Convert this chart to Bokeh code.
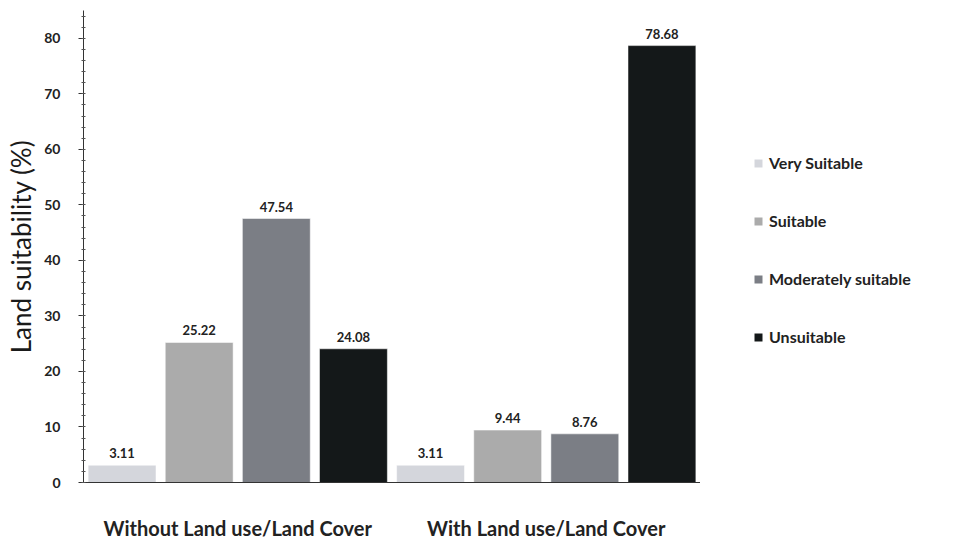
from bokeh.plotting import figure
from bokeh.layouts import row
from bokeh.models import ColumnDataSource, FactorRange, Legend, LegendItem, LabelSet
from bokeh.transform import dodge
from bokeh.core.properties import value
from bokeh.embed import file_html
from bokeh.resources import INLINE

# Land suitability classes under two scenarios
scenarios = ["Without Land use/Land Cover", "With Land use/Land Cover"]
classes = ["Very Suitable", "Suitable", "Moderately suitable", "Unsuitable"]
without_lulc = [3.11, 25.22, 47.54, 24.08]
with_lulc = [3.11, 9.44, 8.76, 78.68]
class_colors = ["#d4d6dc", "#ababab", "#7b7e85", "#141819"]

FONT = "Lato"
BAR_PITCH = 0.25
BAR_WIDTH = 0.22

p = figure(
    width=700, height=544,
    x_range=FactorRange(*scenarios, range_padding=0.0),
    y_range=(0, 85),
    output_backend="svg", toolbar_location=None,
    min_border_left=83, min_border_right=0, min_border_top=10, min_border_bottom=62,
)
p.outline_line_color = None
p.xgrid.grid_line_color = None
p.ygrid.grid_line_color = None
p.background_fill_color = "white"
p.border_fill_color = "white"

for i, color in enumerate(class_colors):
    vals = [without_lulc[i], with_lulc[i]]
    src = ColumnDataSource(dict(
        scenario=scenarios,
        top=vals,
        label=["%.2f" % v for v in vals],
    ))
    offset = (i - 1.5) * BAR_PITCH
    p.vbar(x=dodge("scenario", offset, range=p.x_range), top="top",
           width=BAR_WIDTH, source=src,
           fill_color=color, line_color="white", line_width=0.5)
    p.add_layout(LabelSet(
        x=dodge("scenario", offset, range=p.x_range), y="top", text="label",
        source=src, text_align="center", text_baseline="bottom", y_offset=7,
        text_font=value(FONT), text_font_style="bold", text_font_size="13px",
        text_color="#222222"))

# y axis
p.yaxis.axis_label = "Land suitability (%)"
p.yaxis.axis_label_text_font = FONT
p.yaxis.axis_label_text_font_style = "normal"
p.yaxis.axis_label_text_font_size = "26px"
p.yaxis.axis_label_text_color = "#1a1a1a"
p.yaxis.axis_label_standoff = 4
p.yaxis.ticker.desired_num_ticks = 9
p.yaxis.ticker.num_minor_ticks = 5
p.yaxis.major_label_text_font = FONT
p.yaxis.major_label_text_font_style = "bold"
p.yaxis.major_label_text_font_size = "14px"
p.yaxis.major_label_text_color = "#222222"
p.yaxis.major_label_standoff = 18
p.yaxis.major_tick_in = 0
p.yaxis.major_tick_out = 5
p.yaxis.minor_tick_in = 2
p.yaxis.minor_tick_out = 2
p.yaxis.axis_line_color = "#333333"
p.yaxis.major_tick_line_color = "#333333"
p.yaxis.minor_tick_line_color = "#555555"

# x axis: scenario names
p.xaxis.major_tick_line_color = None
p.xaxis.minor_tick_line_color = None
p.xaxis.major_label_text_font = FONT
p.xaxis.major_label_text_font_style = "bold"
p.xaxis.major_label_text_font_size = "20px"
p.xaxis.major_label_text_color = "#222222"
p.xaxis.major_label_standoff = 27
p.xaxis.axis_line_color = "#333333"

# Legend panel beside the chart
lg = figure(
    width=259, height=544, x_range=(0, 1), y_range=(0, 1),
    output_backend="svg", toolbar_location=None,
    min_border_left=0, min_border_right=0, min_border_top=0, min_border_bottom=0,
)
lg.axis.visible = False
lg.grid.visible = False
lg.outline_line_color = None
lg.border_fill_color = "white"

items = []
for cls, color in zip(classes, class_colors):
    # zero-height swatch source: only its colour shows, in the legend
    swatch = ColumnDataSource(dict(x=[0], top=[0]))
    r = lg.vbar(x="x", top="top", width=0.01, source=swatch,
                fill_color=color, line_color=None)
    items.append(LegendItem(label=cls, renderers=[r], index=0))

legend = Legend(
    items=items,
    location=(53, 136),
    glyph_width=10, glyph_height=10,
    label_text_font=FONT, label_text_font_style="bold", label_text_font_size="16px",
    label_text_color="#222222", label_standoff=6,
    spacing=39, padding=0, margin=0,
    border_line_color=None, background_fill_alpha=0,
)
lg.add_layout(legend, "center")

layout = row(p, lg, spacing=0)
open("out.html", "w").write(file_html(layout, INLINE))
